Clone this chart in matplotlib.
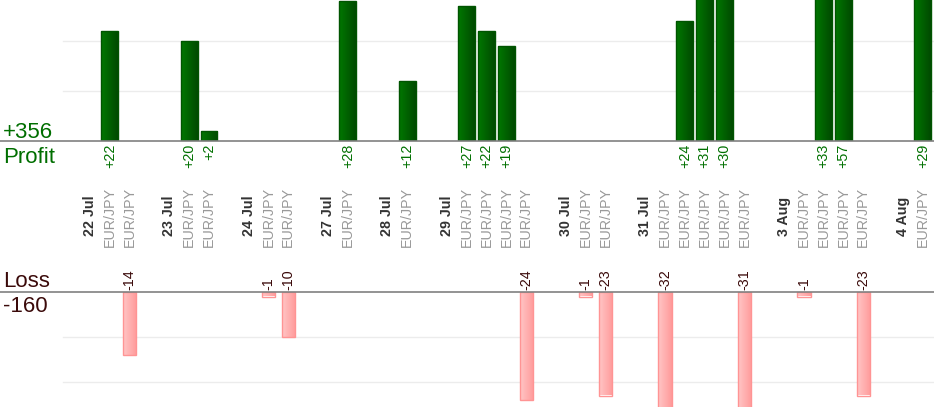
import numpy as np
import matplotlib
matplotlib.use('Agg')
import matplotlib.pyplot as plt
import matplotlib.transforms as mtransforms
from matplotlib.colors import LinearSegmentedColormap

plt.rcParams['font.family'] = ['Liberation Sans', 'DejaVu Sans']

# one slot per column: day header, trades of that day, then a blank gap
SLOT_LABELS = [
    '22 Jul', 'EUR/JPY', 'EUR/JPY', '',
    '23 Jul', 'EUR/JPY', 'EUR/JPY', '',
    '24 Jul', 'EUR/JPY', 'EUR/JPY', '',
    '27 Jul', 'EUR/JPY', '',
    '28 Jul', 'EUR/JPY', '',
    '29 Jul', 'EUR/JPY', 'EUR/JPY', 'EUR/JPY', 'EUR/JPY', '',
    '30 Jul', 'EUR/JPY', 'EUR/JPY', '',
    '31 Jul', 'EUR/JPY', 'EUR/JPY', 'EUR/JPY', 'EUR/JPY', 'EUR/JPY', '',
    '3 Aug', 'EUR/JPY', 'EUR/JPY', 'EUR/JPY', 'EUR/JPY', '',
    '4 Aug', 'EUR/JPY',
]

# trade result in pips (0 = no trade in that slot)
RESULTS = [
    0, 22, -14, 0,
    0, 20, 2, 0,
    0, -1, -10, 0,
    0, 28, 0,
    0, 12, 0,
    0, 27, 22, 19, -24, 0,
    0, -1, -23, 0,
    0, -32, 24, 31, 30, -31, 0,
    0, -1, 33, 57, -23, 0,
    0, 29,
]

PROFIT_GRID = [10, 20]
LOSS_GRID = [-10, -20]

W, H = 934, 420
X0, STEP = 90, 19.83          # pixel position of slot 0 and slot spacing
TOP_BASE, BOT_BASE, BOT_END = 141, 292, 407

results = np.array(RESULTS)
x = np.arange(len(results))
win = results > 0
lose = results < 0

fig = plt.figure(figsize=(W / 100, H / 100), dpi=100)
ax_p = fig.add_axes([0, 1 - TOP_BASE / H, 1, TOP_BASE / H])
ax_l = fig.add_axes([0, 1 - BOT_END / H, 1, (BOT_END - BOT_BASE) / H])

xlim = (-X0 / STEP, (W - X0) / STEP)


def fy(p):
    return 1 - p / H


def shade(ax, bars, c_left, c_right):
    # horizontal gradient fill, same rectangle as each bar
    cmap = LinearSegmentedColormap.from_list('shade', [c_left, c_right])
    grad = np.linspace(0, 1, 64).reshape(1, -1)
    for b in bars:
        bx, by = b.get_xy()
        ax.imshow(grad, cmap=cmap, aspect='auto', zorder=2,
                  interpolation='bilinear',
                  extent=[bx, bx + b.get_width(), by, by + b.get_height()])


for ax, grid in ((ax_p, PROFIT_GRID), (ax_l, LOSS_GRID)):
    ax.axis('off')
    for g in grid:
        ax.axhline(g, xmin=63 / W, color='#ececec', lw=1, zorder=0)

# profit bars
pb = ax_p.bar(x[win], results[win], 0.85, facecolor='none',
              edgecolor='#005400', lw=1, zorder=3)
shade(ax_p, pb, '#007800', '#004a00')
ax_p.set_xlim(*xlim)
ax_p.set_ylim(0, TOP_BASE / 5)
ax_p.axhline(0, color='#808080', lw=1.2, clip_on=False, zorder=4)

# loss bars
lb = ax_l.bar(x[lose], results[lose], 0.68, facecolor='none',
              edgecolor='#ff9494', lw=1, zorder=3)
shade(ax_l, lb, '#ffc6c6', '#ff9a9a')
ax_l.set_xlim(*xlim)
ax_l.set_ylim(-(BOT_END - BOT_BASE) / 4.5, 0)
ax_l.axhline(0, color='#808080', lw=1.2, clip_on=False, zorder=4)

# labels
tr = mtransforms.blended_transform_factory(ax_p.transData, fig.transFigure)
for i, (lab, v) in enumerate(zip(SLOT_LABELS, results)):
    if lab == 'EUR/JPY':
        fig.text(i, fy(247), lab, transform=tr, rotation=90, ha='center',
                 va='bottom', fontsize=10.3, color='#999999')
    elif lab:
        fig.text(i, fy(236), lab, transform=tr, rotation=90, ha='center',
                 va='bottom', fontsize=10.3, color='#333333', fontweight='bold')
    if v > 0:
        fig.text(i, fy(144), f'+{v}', transform=tr, rotation=90,
                 ha='center', va='top', fontsize=10.3, color='#007000')
    elif v < 0:
        fig.text(i, fy(290), f'{v}', transform=tr, rotation=90,
                 ha='center', va='bottom', fontsize=10.3, color='#3b0a0a')

fig.text(3 / W, fy(138), f'+{results[win].sum()}', fontsize=16,
         color='#006e00', va='baseline')
fig.text(3 / W, fy(163), 'Profit', fontsize=16, color='#006e00',
         va='baseline')
fig.text(3 / W, fy(287), 'Loss', fontsize=16, color='#3b0a0a',
         va='baseline')
fig.text(3 / W, fy(312), f'{results[lose].sum()}', fontsize=16,
         color='#3b0a0a', va='baseline')

fig.savefig('out.png', dpi=100, facecolor='white')
